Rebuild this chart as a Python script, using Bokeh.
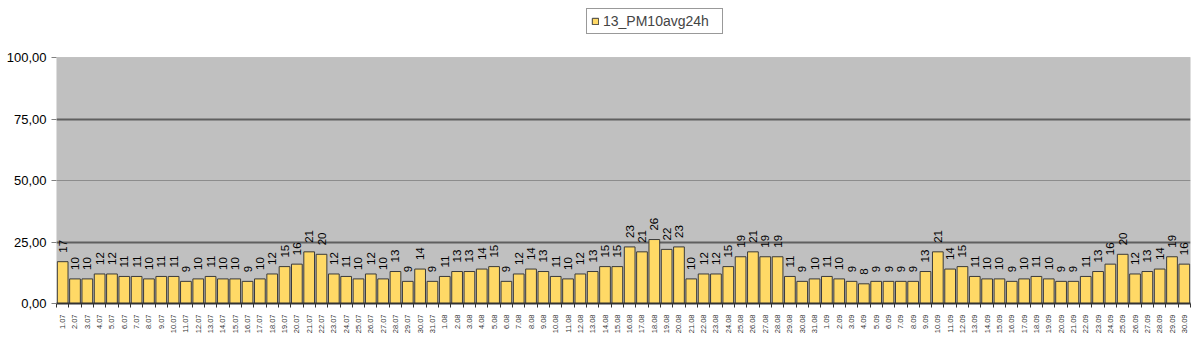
import math
from bokeh.plotting import figure
from bokeh.models import (ColumnDataSource, Range1d, FixedTicker, CustomJSTickFormatter,
                          Legend, LegendItem, Grid, BoxAnnotation)
from bokeh.embed import file_html
from bokeh.resources import INLINE

dates = ([f"{d}.07" for d in range(1, 32)] +
         [f"{d}.08" for d in range(1, 32)] +
         [f"{d}.09" for d in range(1, 31)])

pm10_jul = [17, 10, 10, 12, 12, 11, 11, 10, 11, 11, 9, 10, 11, 10, 10, 9, 10, 12, 15, 16,
            21, 20, 12, 11, 10, 12, 10, 13, 9, 14, 9]
pm10_aug = [11, 13, 13, 14, 15, 9, 12, 14, 13, 11, 10, 12, 13, 15, 15, 23, 21, 26, 22, 23,
            10, 12, 12, 15, 19, 21, 19, 19, 11, 9, 10]
pm10_sep = [11, 10, 9, 8, 9, 9, 9, 9, 13, 21, 14, 15, 11, 10, 10, 9, 10, 11, 10, 9,
            9, 11, 13, 16, 20, 12, 13, 14, 19, 16]
values = pm10_jul + pm10_aug + pm10_sep

y_ticks = [0, 25, 50, 75, 100]
y_tick_labels = ["0,00", "25,00", "50,00", "75,00", "100,00"]
series_name = "13_PM10avg24h"

FONT = "Liberation Sans"

x_pos = [i + 0.5 for i in range(len(values))]
src = ColumnDataSource(dict(x=x_pos, v=values, lbl=[str(v) for v in values]))

# frame spans page y 5..303; plot area (0..100) spans 57..303
p = figure(width=1193, height=348, output_backend="svg", toolbar_location=None,
           x_range=Range1d(0, len(values)), y_range=Range1d(0, 100 * 298 / 246),
           min_border_left=56, min_border_right=3, min_border_top=5, min_border_bottom=45)
p.background_fill_color = "white"
p.border_fill_color = "white"
p.outline_line_color = None

plot_area = BoxAnnotation(bottom=0, top=100, fill_color="#C0C0C0", fill_alpha=1,
                          line_color="#808080", line_width=1, level="image")
p.add_layout(plot_area)

r = p.vbar(x="x", top="v", width=0.87, source=src, fill_color="#FFD966",
           line_color="#3a3a3a", line_width=1)
p.text(x="x", y="v", text="lbl", source=src, angle=math.pi / 2, text_align="left",
       text_baseline="middle", y_offset=-9, text_font={"value": FONT},
       text_font_size="11.5px", text_color="black")

# grids
p.xgrid.visible = False
p.ygrid.ticker = FixedTicker(ticks=[50])
p.ygrid.grid_line_color = "#8c8c8c"
p.ygrid.grid_line_width = 1
p.add_layout(Grid(dimension=1, ticker=FixedTicker(ticks=[25, 75]),
                  grid_line_color="#5f5f5f", grid_line_width=2))

# y axis
ya = p.yaxis[0]
ya.ticker = FixedTicker(ticks=y_ticks)
ya.major_label_overrides = {t: l for t, l in zip(y_ticks, y_tick_labels)}
ya.major_label_text_font = FONT
ya.major_label_text_font_size = "13px"
ya.major_label_text_color = "black"
ya.axis_line_color = None
ya.major_tick_line_color = "#808080"
ya.major_tick_out = 5
ya.major_tick_in = 0
ya.minor_tick_line_color = None
ya.major_label_standoff = 5

# x axis
xa = p.xaxis[0]
xa.ticker = FixedTicker(ticks=x_pos, minor_ticks=list(range(len(values) + 1)))
xa.formatter = CustomJSTickFormatter(args=dict(labels=dates),
                                     code="return labels[Math.floor(tick)];")
xa.major_label_orientation = math.pi / 2
xa.major_label_text_font = FONT
xa.major_label_text_font_size = "7.5px"
xa.major_label_text_color = "#333333"
xa.major_tick_line_color = None
xa.minor_tick_line_color = "#333333"
xa.minor_tick_out = 4
xa.minor_tick_in = 0
xa.axis_line_color = "#333333"
xa.axis_line_width = 2
xa.major_label_standoff = 5

# legend: box at page x 586..721, y 10..34 (location = bottom-left from frame bottom-left)
legend = Legend(items=[LegendItem(label=series_name, renderers=[r])],
                location=(530, 269), orientation="horizontal",
                border_line_color="#333333", border_line_width=1,
                background_fill_color="white", background_fill_alpha=1,
                label_text_font=FONT, label_text_font_size="14px",
                glyph_width=8, glyph_height=8, label_standoff=4,
                padding=4, margin=0, spacing=0, label_height=16, label_width=115)
p.add_layout(legend, "center")

open("out.html", "w").write(file_html(p, INLINE))
